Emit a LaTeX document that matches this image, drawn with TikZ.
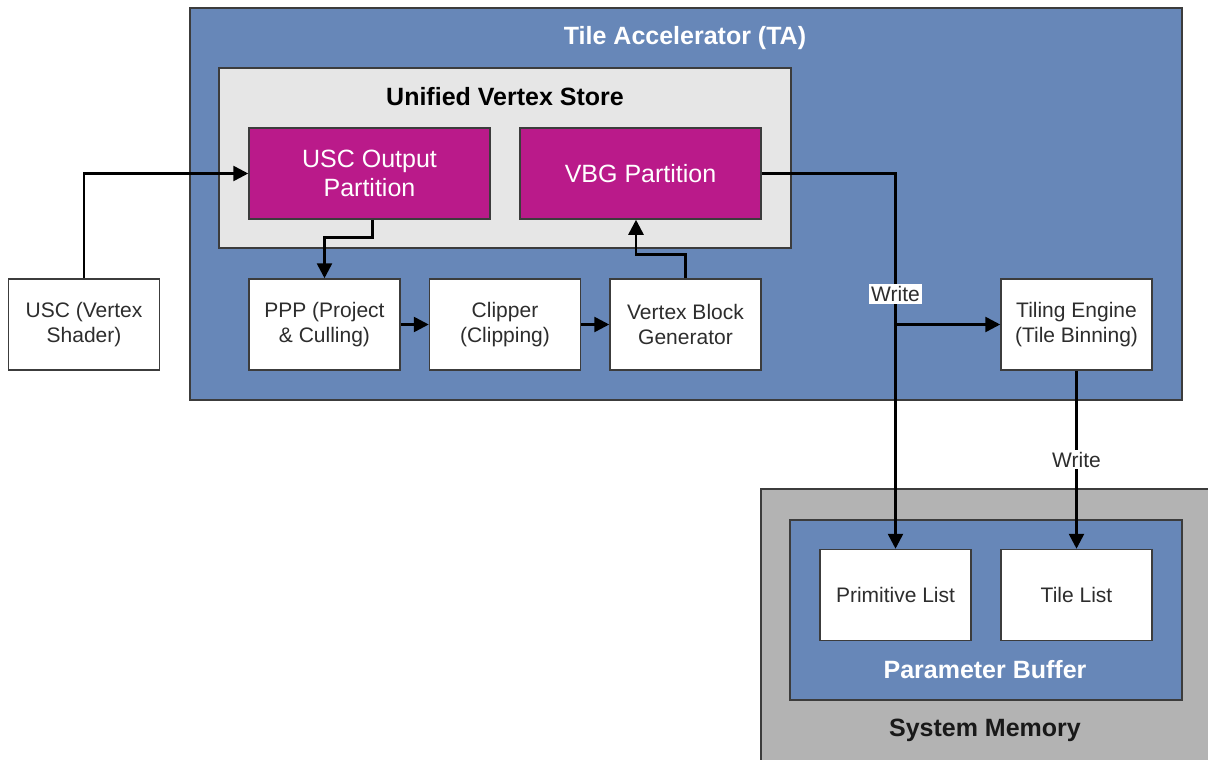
\documentclass[tikz,border=0pt]{standalone}
\usepackage{fontspec}
\setmainfont{Liberation Sans}
\usetikzlibrary{arrows.meta}
\definecolor{tablue}{RGB}{103,135,184}
\definecolor{magbox}{RGB}{186,26,138}
\definecolor{uvsgray}{RGB}{230,230,230}
\definecolor{memgray}{RGB}{179,179,179}
\definecolor{boxline}{RGB}{60,60,60}
\definecolor{boxtext}{RGB}{45,45,45}
\begin{document}
\begin{tikzpicture}[x=1pt,y=-1pt,
  container/.style={draw=boxline, line width=1.5pt, inner sep=0pt},
  box/.style={draw=boxline, line width=1.5pt, fill=white, minimum width=151pt, minimum height=91pt,
    inner sep=0pt, align=center, text=boxtext, font=\fontsize{21}{25}\selectfont},
  magb/.style={draw=boxline, line width=1.5pt, fill=magbox, minimum width=241pt, minimum height=91pt,
    inner sep=0pt, align=center, text=white, font=\fontsize{25}{29}\selectfont},
  title/.style={font=\fontsize{25}{29}\selectfont\bfseries, inner sep=0pt},
  conn/.style={draw=black, line width=2.6pt, -{Triangle[length=15pt,width=15pt]}},
  lab/.style={fill=white, inner sep=2pt, text=boxtext, font=\fontsize{21}{25}\selectfont}
]
\useasboundingbox (0,0) rectangle (1208,760);

% containers
\node[container, fill=tablue, minimum width=992pt, minimum height=392pt] (ta) at (686,204) {};
\node[title, text=white] (tatitle) at (685,38) {Tile Accelerator (TA)};
\node[container, fill=uvsgray, minimum width=572pt, minimum height=180pt] (uvs) at (505,158) {};
\node[title, text=black] (uvstitle) at (505,97) {Unified Vertex Store};

\node[container, fill=memgray, minimum width=452pt, minimum height=276pt] (mem) at (987,627) {};
\node[title, text=black!90] (memtitle) at (985,730) {System Memory};
\node[container, fill=tablue, minimum width=392pt, minimum height=180pt] (pb) at (986,610) {};
\node[title, text=white] (pbtitle) at (985,670) {Parameter Buffer};

% partitions
\node[magb] (uscout) at (369.5,173.5) {USC Output\\Partition};
\node[magb] (vbgpart) at (640.5,173.5) {VBG Partition};

% boxes
\node[box] (usc) at (84,324.5) {USC (Vertex\\Shader)};
\node[box] (ppp) at (324.5,324.5) {PPP (Project\\\& Culling)};
\node[box] (clip) at (505,324.5) {Clipper\\(Clipping)};
\node[box] (vbg) at (685.5,324.5) {Vertex Block\\Generator};
\node[box] (tiling) at (1076.5,324.5) {Tiling Engine\\(Tile Binning)};
\node[box] (prim) at (895.5,595) {Primitive List};
\node[box] (tlist) at (1076.5,595) {Tile List};

% connectors
\draw[conn] (usc.north) |- (uscout.west);
\draw[conn] ([xshift=3pt]uscout.south) -- ++(0,18) -| (ppp.north);
\draw[conn] (ppp.east) -- (clip.west);
\draw[conn] (clip.east) -- (vbg.west);
\draw[conn] (vbg.north) -- ++(0,-24) -| ([xshift=-4.5pt]vbgpart.south);
\coordinate (junc) at (prim.north |- tiling.west);
\draw[conn] (vbgpart.east) -| (junc) -- (prim.north);
\draw[conn] (junc) -- (tiling.west);
\node[lab] (write1) at (895.5,294) {Write};
\draw[conn] (tiling.south) -- (tlist.north) node[lab, midway] (write2) {Write};
\end{tikzpicture}
\end{document}
